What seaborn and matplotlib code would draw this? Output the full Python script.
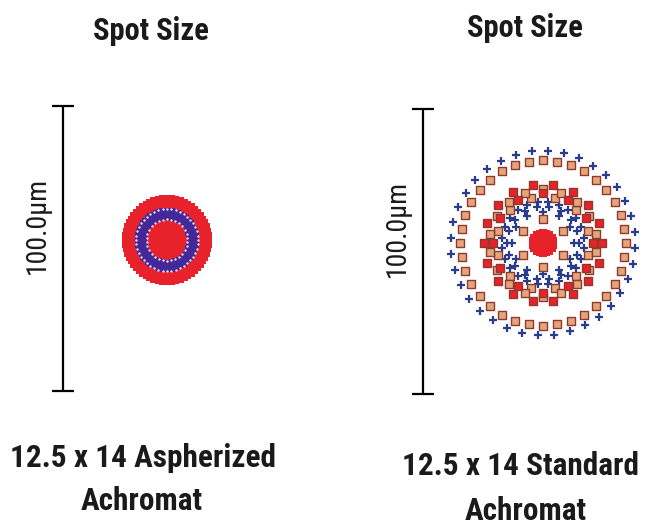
import numpy as np
import pandas as pd
import matplotlib
matplotlib.use("Agg")
import matplotlib.pyplot as plt
from matplotlib import font_manager as fm
import seaborn as sns

# ============================================================
# Spot diagram data (µm, relative to spot centre)
# rings: radius, number of rays on the ring, angle offset (deg)
# ============================================================
BAR_LENGTH = 100.0          # scale bar, µm
BAR_BOTTOM = -53.0
BAR_LABEL = "100.0µm"
TITLES = ["Spot Size", "Spot Size"]
LENS_LINE1 = ["12.5 x 14 Aspherized", "12.5 x 14 Standard"]
LENS_LINE2 = ["Achromat", "Achromat"]

# 12.5 x 14 Aspherized Achromat
asph_red_r = [0.0, 1.5, 3.0, 4.5, 6.0, 7.5, 9.0, 10.5, 12.0, 13.3, 14.3]
asph_red_n = [1, 6, 12, 18, 24, 30, 36, 42, 48, 54, 60]
asph_blue_r = [7.6, 8.4, 9.2, 10.0, 10.7]
asph_blue_n = [36, 42, 48, 54, 60]
asph_dot_r = [7.2, 10.9]
asph_dot_n = [30, 44]

# 12.5 x 14 Standard Achromat
std_core_r = [0.0, 1.2, 2.4, 3.5]
std_core_n = [1, 6, 12, 18]
std_tan_r = [8.3, 16.3, 18.8, 29.0]
std_tan_n = [6, 12, 18, 36]
std_tan_rot = [0, 15, 0, 0]
std_redsq_r = [17.4, 20.8]
std_redsq_n = [12, 18]
std_redsq_rot = [0, 10]
std_cross_r = [11.0, 12.8, 14.5, 32.4]
std_cross_n = [12, 18, 24, 36]
std_cross_rot = [0, 10, 7.5, -3]

PX_PER_UM = 2.85
RED = "#e8222b"
BLUE = "#44289a"
TAN = "#e3a57c"
TAN_EDGE = "#8f3b2c"
CROSS = "#2a3c8e"
INK = "#1a1a1a"


def rings(radii, counts, rots=None):
    rows = []
    for i, (r, n) in enumerate(zip(radii, counts)):
        rot = 0 if rots is None else rots[i]
        for k in range(n):
            a = np.deg2rad(rot + 360.0 * k / n + 90)
            rows.append((r * np.cos(a), r * np.sin(a)))
    return pd.DataFrame(rows, columns=["x", "y"])


def scale_bar(ax, x):
    top = BAR_BOTTOM + BAR_LENGTH
    ax.plot([x, x], [BAR_BOTTOM, top], color="black", lw=1.6, solid_capstyle="butt")
    for y in (BAR_BOTTOM, top):
        ax.plot([x - 3.7, x + 3.7], [y, y], color="black", lw=1.6, solid_capstyle="butt")


def narrow_font(bold):
    # look for an upright condensed face; fall back to a smaller DejaVu Sans
    fonts = fm.fontManager.ttflist
    for name in ["Liberation Sans Narrow", "Roboto Condensed", "Open Sans Condensed"]:
        for f in fonts:
            if f.name != name or f.style != "normal":
                continue
            w = f.weight if isinstance(f.weight, int) else (700 if f.weight == "bold" else 400)
            if (bold and w == 700) or (not bold and w == 400):
                return fm.FontProperties(fname=f.fname), 1.0
    return fm.FontProperties(family="DejaVu Sans", weight="bold" if bold else "normal"), 0.72


sns.set_theme(style="white")
plt.rcParams["font.family"] = ["DejaVu Sans"]
bold_fp, bold_k = narrow_font(True)
reg_fp, reg_k = narrow_font(False)

fig = plt.figure(figsize=(6.45, 5.31), dpi=100)
W, H = 645, 531

# left panel, spot centre at pixel (167, 240)
ax1 = fig.add_axes([0, 0, 322 / W, 1])
ax1.set_xlim(-167 / PX_PER_UM, (322 - 167) / PX_PER_UM)
ax1.set_ylim(-(H - 240) / PX_PER_UM, 240 / PX_PER_UM)
sns.scatterplot(data=rings(asph_red_r, asph_red_n), x="x", y="y", ax=ax1,
                marker="s", s=30, color=RED, linewidth=0)
sns.scatterplot(data=rings(asph_blue_r, asph_blue_n), x="x", y="y", ax=ax1,
                marker="s", s=12, color=BLUE, linewidth=0)
sns.scatterplot(data=rings(asph_dot_r, asph_dot_n), x="x", y="y", ax=ax1,
                marker="o", s=3, color="#f4d8e4", linewidth=0)
scale_bar(ax1, (63 - 167) / PX_PER_UM)

# right panel, spot centre at pixel (543, 243)
ax2 = fig.add_axes([322 / W, 0, 323 / W, 1])
ax2.set_xlim((322 - 543) / PX_PER_UM, (645 - 543) / PX_PER_UM)
ax2.set_ylim(-(H - 243) / PX_PER_UM, 243 / PX_PER_UM)
sns.scatterplot(data=rings(std_cross_r, std_cross_n, std_cross_rot), x="x", y="y", ax=ax2,
                marker="+", s=36, color=CROSS, linewidth=1.6)
sns.scatterplot(data=rings(std_tan_r, std_tan_n, std_tan_rot), x="x", y="y", ax=ax2,
                marker="s", s=30, color=TAN, edgecolor=TAN_EDGE, linewidth=1.0)
sns.scatterplot(data=rings(std_redsq_r, std_redsq_n, std_redsq_rot), x="x", y="y", ax=ax2,
                marker="s", s=30, color=RED, edgecolor=TAN_EDGE, linewidth=1.0)
sns.scatterplot(data=rings(std_core_r, std_core_n), x="x", y="y", ax=ax2,
                marker="s", s=34, color=RED, linewidth=0)
scale_bar(ax2, (423 - 543) / PX_PER_UM)

for ax in (ax1, ax2):
    ax.set_axis_off()

# text
t_size = 22 * bold_k
l_size = 22.5 * bold_k
fig.text(151 / W, 1 - 40 / H, TITLES[0], ha="center", va="baseline",
         fontproperties=bold_fp, fontsize=t_size, color=INK)
fig.text(525 / W, 1 - 37 / H, TITLES[1], ha="center", va="baseline",
         fontproperties=bold_fp, fontsize=t_size, color=INK)
fig.text(37 / W, 1 - 225 / H, BAR_LABEL, ha="center", va="center", rotation=90,
         fontproperties=reg_fp, fontsize=20 * reg_k, color=INK)
fig.text(397 / W, 1 - 228 / H, BAR_LABEL, ha="center", va="center", rotation=90,
         fontproperties=reg_fp, fontsize=20 * reg_k, color=INK)
fig.text(143 / W, 1 - 467 / H, LENS_LINE1[0], ha="center", va="baseline",
         fontproperties=bold_fp, fontsize=l_size, color=INK)
fig.text(142 / W, 1 - 510 / H, LENS_LINE2[0], ha="center", va="baseline",
         fontproperties=bold_fp, fontsize=l_size, color=INK)
fig.text(520 / W, 1 - 475 / H, LENS_LINE1[1], ha="center", va="baseline",
         fontproperties=bold_fp, fontsize=l_size, color=INK)
fig.text(526 / W, 1 - 520 / H, LENS_LINE2[1], ha="center", va="baseline",
         fontproperties=bold_fp, fontsize=l_size, color=INK)

fig.savefig("out.png", dpi=100, facecolor="white")
